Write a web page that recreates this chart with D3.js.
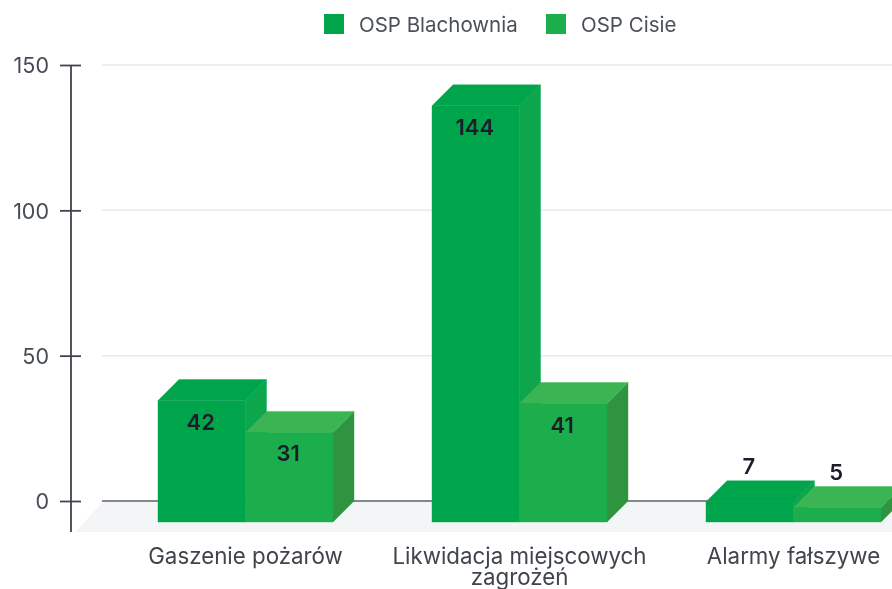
<!DOCTYPE html>
<html><head><meta charset="utf-8">
<script src="https://cdn.jsdelivr.net/npm/d3@7"></script>
<style>
html,body{margin:0;padding:0;background:#fff;overflow:hidden}
svg{display:block}
text{font-family:Inter,Roboto,Arial,sans-serif}
</style></head><body>
<svg id="c" width="892" height="589"></svg>
<script>
const categories = ["Gaszenie pożarów", "Likwidacja miejscowych zagrożeń", "Alarmy fałszywe"];
const seriesNames = ["OSP Blachownia", "OSP Cisie"];
const blachownia = [42, 144, 7];
const cisie = [31, 41, 5];
const tickLabels = [0, 50, 100, 150];
const frontColors = ["#00a54c", "#1fad4d"];
const topColors = ["#00a54c", "#3bb552"];
const sideColors = ["#07a64d", "#2f9440"];
const series = [blachownia, cisie];

const W = 892, H = 589, depth = 21;
const svg = d3.select("#c");
const defs = svg.append("defs");
defs.append("filter").attr("id","soft").append("feGaussianBlur").attr("stdDeviation",0.5);
const root = svg.append("g").attr("filter","url(#soft)");

const yAxisScale = d3.scaleLinear().domain([0,150]).range([501,65]);
const yBar = d3.scaleLinear().domain([0,150]).range([501,67.5]);
const x0 = d3.scaleBand().domain(categories).range([108.5,930.5]).paddingInner(99/274).paddingOuter(49.5/274);
const x1 = d3.scaleBand().domain([0,1]).range([0,x0.bandwidth()]);
const axisX = 71, gridL = 102;

root.append("path").attr("d",`M${axisX+4},532L${gridL+2},501H${W}V532Z`).attr("fill","#f4f5f6");
root.selectAll("line.grid").data(tickLabels.filter(d=>d>0)).join("line")
  .attr("x1",gridL).attr("x2",W).attr("y1",d=>yAxisScale(d)).attr("y2",d=>yAxisScale(d))
  .attr("stroke","#e8e9eb").attr("stroke-width",1.5);
root.append("line").attr("x1",gridL).attr("x2",W).attr("y1",yAxisScale(0)).attr("y2",yAxisScale(0))
  .attr("stroke","#5d626b").attr("stroke-width",1.5);
const ax = root.append("g").attr("transform",`translate(81,0)`)
  .call(d3.axisLeft(yAxisScale).tickValues(tickLabels).tickSize(21).tickPadding(11).tickFormat(d3.format("d")));
ax.select(".domain").remove();
ax.selectAll("line").attr("stroke","#3f444c").attr("stroke-width",1.8);
ax.selectAll("text").attr("font-size",21.5).attr("fill","#464b53").attr("font-family","Inter,Roboto,Arial,sans-serif")
  .attr("transform","translate(0,1)");
root.append("line").attr("x1",axisX).attr("x2",axisX).attr("y1",yAxisScale(150)).attr("y2",532)
  .attr("stroke","#3f444c").attr("stroke-width",1.8);

series.forEach((vals,s)=>{
  const g = root.append("g");
  vals.forEach((v,i)=>{
    const x = x0(categories[i]) + x1(s), w = x1.bandwidth();
    const yb = yBar(0), yt = yBar(v);
    g.append("path").attr("fill",sideColors[s]).attr("stroke",sideColors[s]).attr("stroke-width",0.4)
      .attr("d",`M${x+w},${yt+depth}L${x+w+depth},${yt}V${yb}L${x+w},${yb+depth}Z`);
    g.append("path").attr("fill",topColors[s]).attr("stroke",topColors[s]).attr("stroke-width",0.4)
      .attr("d",`M${x},${yt+depth}L${x+depth},${yt}H${x+w+depth}L${x+w},${yt+depth}Z`);
    g.append("rect").attr("fill",frontColors[s]).attr("stroke",frontColors[s]).attr("stroke-width",0.4)
      .attr("x",x).attr("y",yt+depth).attr("width",w).attr("height",yb-yt);
  });
});
series.forEach((vals,s)=>{
  vals.forEach((v,i)=>{
    const x = x0(categories[i]) + x1(s) + x1.bandwidth()/2 - 1;
    const yt = yBar(v);
    root.append("text").attr("x",x).attr("y",v<10 ? yt-15 : yt+depth+21)
      .attr("text-anchor","middle").attr("dominant-baseline","central")
      .attr("font-size",22).attr("font-weight",600).attr("fill","#1b1d2a").text(v);
  });
});
const catLines = [["Gaszenie pożarów"],["Likwidacja miejscowych","zagrożeń"],["Alarmy fałszywe"]];
categories.forEach((c,i)=>{
  const cx = x0(c)+x0.bandwidth()/2;
  catLines[i].forEach((t,k)=>{
    root.append("text").attr("x",cx).attr("y",k?585:564).attr("text-anchor","middle")
      .attr("font-size",22.3).attr("fill","#3f444c").text(t);
  });
});
const legendX = [324,546];
seriesNames.forEach((n,s)=>{
  root.append("rect").attr("x",legendX[s]).attr("y",14).attr("width",20).attr("height",20).attr("fill",frontColors[s]);
  root.append("text").attr("x",legendX[s]+35).attr("y",24).attr("dominant-baseline","central")
    .attr("font-size",20.5).attr("fill","#4b5058").text(n);
});
</script></body></html>
